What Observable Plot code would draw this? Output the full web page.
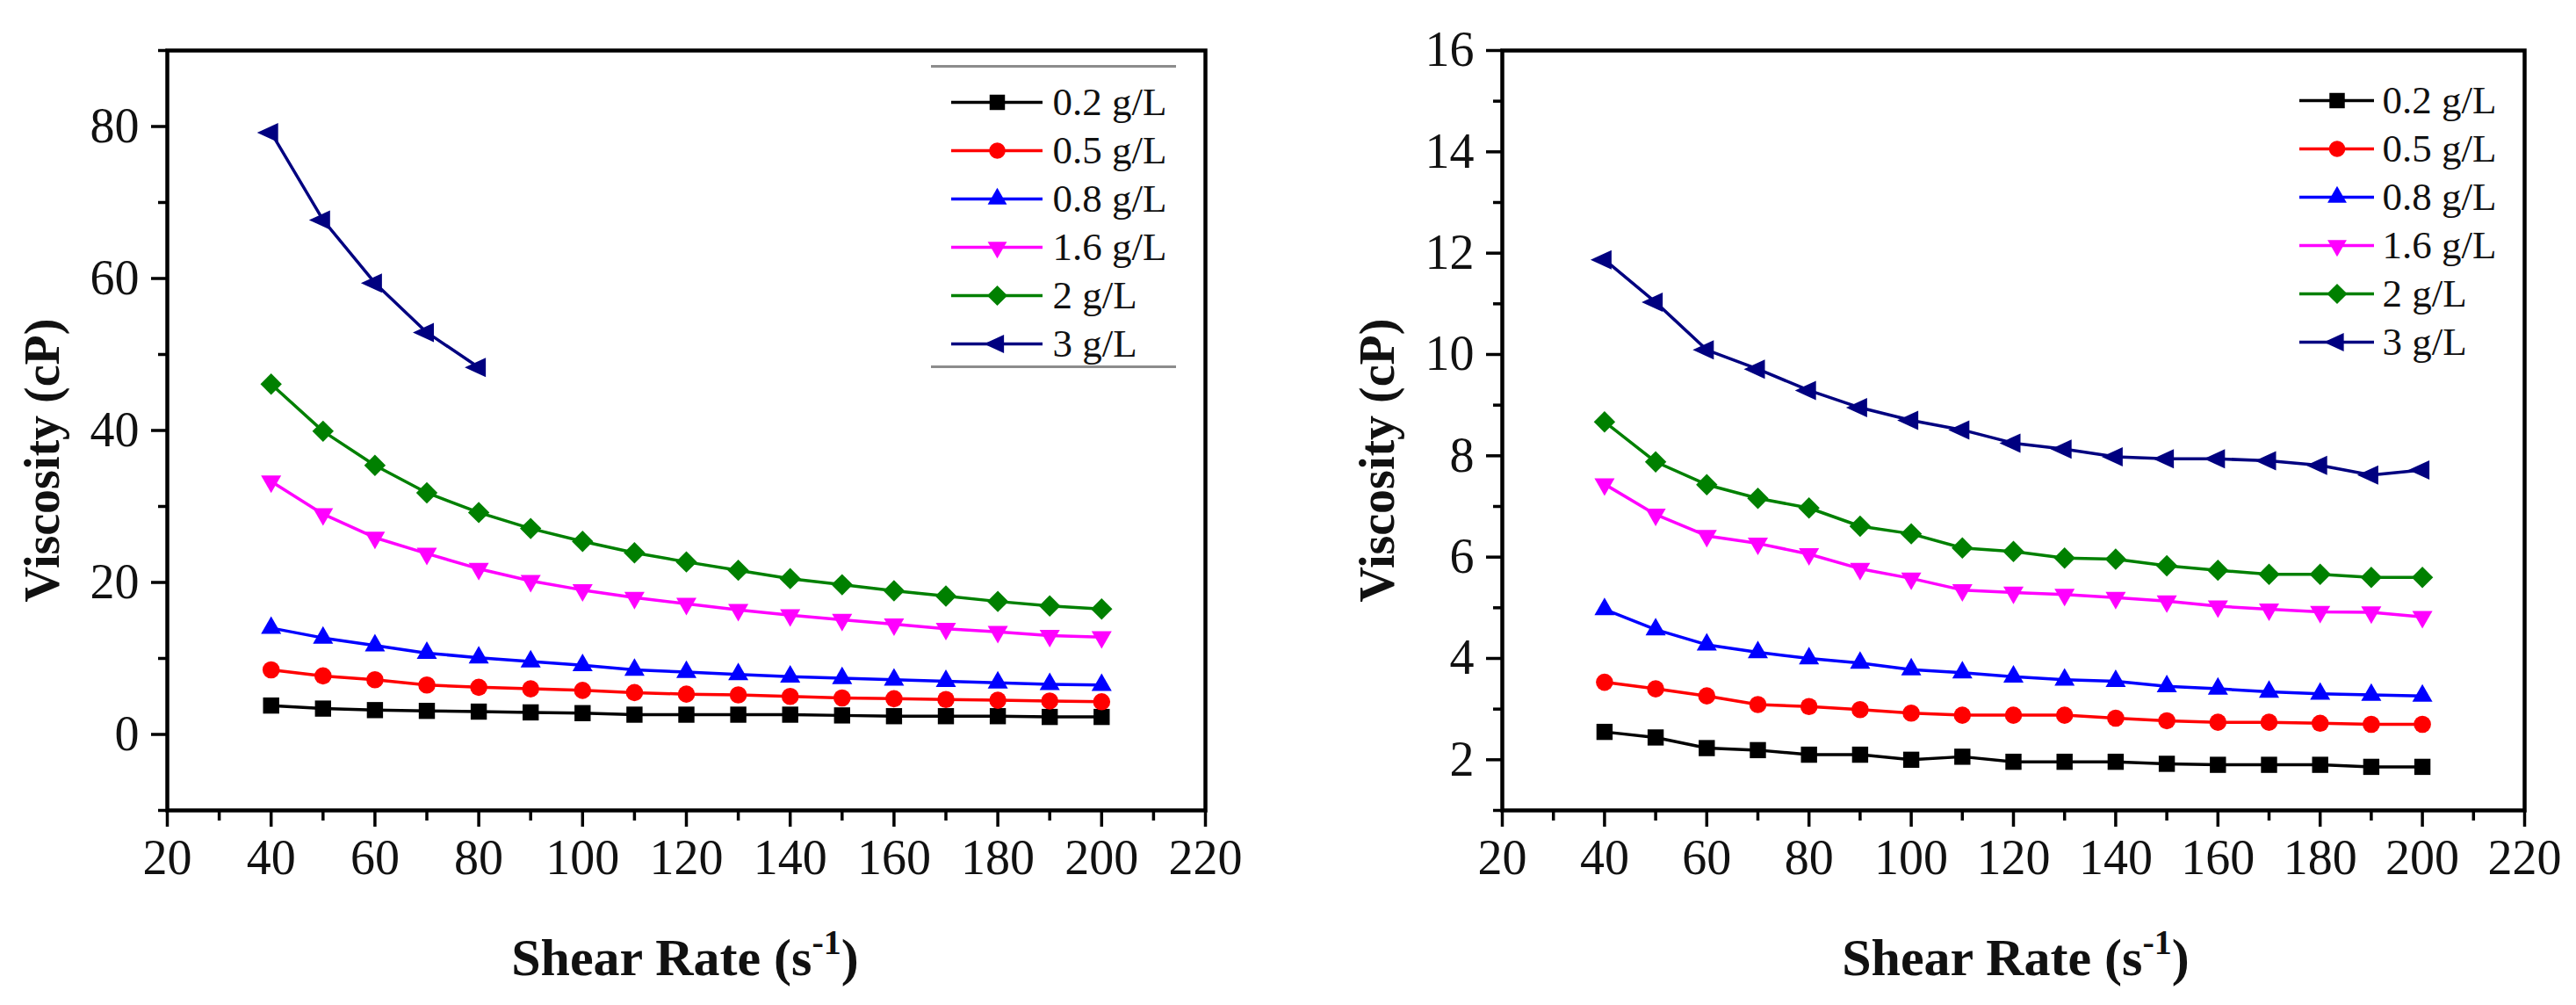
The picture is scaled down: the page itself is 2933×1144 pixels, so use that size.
<!DOCTYPE html>
<html>
<head>
<meta charset="utf-8">
<script src="https://cdn.jsdelivr.net/npm/d3@7"></script>
<script src="https://cdn.jsdelivr.net/npm/@observablehq/plot@0.6"></script>
<style>
  html, body { margin: 0; padding: 0; background: #fff; }
  #page { position: relative; width: 2933px; height: 1144px; overflow: hidden; background: #fff;
          font-family: "Liberation Serif", "Times New Roman", serif; }
  .abs { position: absolute; }
  .abs svg { overflow: visible; }
</style>
</head>
<body>
<div id="page"></div>
<script>
// ---------------- data ----------------
const series = ["0.2 g/L", "0.5 g/L", "0.8 g/L", "1.6 g/L", "2 g/L", "3 g/L"];
const colors = ["#000000", "#ff0000", "#0000ff", "#ff00ff", "#008000", "#000080"];
const shearRate = [40, 50, 60, 70, 80, 90, 100, 110, 120, 130, 140, 150, 160, 170, 180, 190, 200];

// left panel (viscosity, cP)
const left02 = [3.8, 3.4, 3.2, 3.1, 3.0, 2.9, 2.8, 2.6, 2.6, 2.6, 2.6, 2.5, 2.4, 2.4, 2.4, 2.3, 2.3];
const left05 = [8.5, 7.7, 7.2, 6.5, 6.2, 6.0, 5.8, 5.5, 5.3, 5.2, 5.0, 4.8, 4.7, 4.6, 4.5, 4.4, 4.3];
const left08 = [14.0, 12.7, 11.7, 10.7, 10.1, 9.6, 9.1, 8.5, 8.2, 7.9, 7.6, 7.4, 7.2, 7.0, 6.8, 6.6, 6.5];
const left16 = [33.3, 29.0, 25.9, 23.8, 21.8, 20.2, 19.0, 18.0, 17.2, 16.4, 15.7, 15.1, 14.5, 13.9, 13.5, 13.0, 12.8];
const left2  = [46.1, 39.9, 35.4, 31.8, 29.2, 27.1, 25.4, 23.9, 22.7, 21.6, 20.5, 19.7, 18.9, 18.2, 17.5, 16.9, 16.5];
const left3  = [79.2, 67.7, 59.4, 52.9, 48.3];

// right panel (viscosity, cP)
const right02 = [2.55, 2.44, 2.23, 2.19, 2.10, 2.10, 2.00, 2.06, 1.96, 1.96, 1.96, 1.92, 1.90, 1.90, 1.90, 1.86, 1.86];
const right05 = [3.53, 3.40, 3.26, 3.09, 3.05, 2.99, 2.92, 2.88, 2.88, 2.88, 2.82, 2.77, 2.74, 2.74, 2.72, 2.70, 2.70];
const right08 = [4.97, 4.57, 4.27, 4.12, 4.00, 3.91, 3.78, 3.72, 3.64, 3.58, 3.55, 3.45, 3.40, 3.34, 3.30, 3.28, 3.26];
const right16 = [7.44, 6.84, 6.42, 6.27, 6.06, 5.77, 5.58, 5.35, 5.30, 5.26, 5.20, 5.13, 5.03, 4.97, 4.92, 4.91, 4.82];
const right2  = [8.67, 7.88, 7.43, 7.16, 6.97, 6.61, 6.46, 6.18, 6.11, 5.98, 5.96, 5.83, 5.74, 5.66, 5.66, 5.60, 5.60];
const right3  = [11.87, 11.03, 10.09, 9.71, 9.29, 8.95, 8.70, 8.51, 8.25, 8.13, 7.98, 7.94, 7.94, 7.90, 7.81, 7.62, 7.72];

// ticks
const xDomain = [20, 220];
const xTicks = [20, 40, 60, 80, 100, 120, 140, 160, 180, 200, 220];
const xMinorTicks = [30, 50, 70, 90, 110, 130, 150, 170, 190, 210];
const leftYDomain = [-10, 90];
const leftYTicks = [0, 20, 40, 60, 80];
const leftYMinorTicks = [-10, 10, 30, 50, 70, 90];
const rightYDomain = [1, 16];
const rightYTicks = [2, 4, 6, 8, 10, 12, 14, 16];
const rightYMinorTicks = [1, 3, 5, 7, 9, 11, 13, 15];

const xLabel = "Shear Rate (s";
const xLabelSup = "-1";
const yLabel = "Viscosity (cP)";

// ---------------- symbols ----------------
function poly(ctx, pts) { ctx.moveTo(pts[0][0], pts[0][1]); for (let i = 1; i < pts.length; i++) ctx.lineTo(pts[i][0], pts[i][1]); ctx.closePath(); }
const symSquare = { draw(ctx, size) { const r = Math.sqrt(size / Math.PI), a = r * 0.92; poly(ctx, [[-a,-a],[a,-a],[a,a],[-a,a]]); } };
const symCircle = { draw(ctx, size) { const r = Math.sqrt(size / Math.PI) * 0.98; ctx.moveTo(r, 0); ctx.arc(0, 0, r, 0, 2 * Math.PI); } };
const symTriUp = { draw(ctx, size) { const r = Math.sqrt(size / Math.PI), h = r * 2.0, w = r * 2.3; poly(ctx, [[0,-h*2/3],[w/2,h/3],[-w/2,h/3]]); } };
const symTriDown = { draw(ctx, size) { const r = Math.sqrt(size / Math.PI), h = r * 2.0, w = r * 2.3; poly(ctx, [[0,h*2/3],[w/2,-h/3],[-w/2,-h/3]]); } };
const symDiamond = { draw(ctx, size) { const r = Math.sqrt(size / Math.PI), a = r * 1.22; poly(ctx, [[0,-a],[a,0],[0,a],[-a,0]]); } };
const symTriLeft = { draw(ctx, size) { const r = Math.sqrt(size / Math.PI), h = r * 2.4, w = r * 2.2; poly(ctx, [[-h*2/3,0],[h/3,-w/2],[h/3,w/2]]); } };
const symbols = [symSquare, symCircle, symTriUp, symTriDown, symDiamond, symTriLeft];

// ---------------- helpers ----------------
function toRows(valueArrays) {
  const rows = [];
  valueArrays.forEach((vals, i) => vals.forEach((v, j) => rows.push({ series: series[i], shear: shearRate[j], visc: v })));
  return rows;
}

const page = document.getElementById("page");
function place(node, left, top) {
  const d = document.createElement("div");
  d.className = "abs"; d.style.left = left + "px"; d.style.top = top + "px";
  d.appendChild(node); page.appendChild(d); return d;
}

const serif = "'Liberation Serif', 'Times New Roman', serif";

function panel({ rows, yDomain, yTicks, yMinor, width, marginLeft, marginRight }) {
  return Plot.plot({
    width, height: 1144,
    marginLeft, marginRight, marginTop: 57, marginBottom: 222,
    style: { background: "transparent", fontFamily: serif, color: "#111", overflow: "visible" },
    x: { domain: xDomain },
    y: { domain: yDomain },
    color: { domain: series, range: colors },
    symbol: { domain: series, range: symbols },
    marks: [
      Plot.line(rows, { x: "shear", y: "visc", stroke: "series", z: "series", strokeWidth: 3.5 }),
      Plot.dot(rows, { x: "shear", y: "visc", fill: "series", symbol: "series", r: 10 }),
      Plot.axisX({ ticks: xMinorTicks, tickSize: 12, strokeWidth: 3.5, stroke: "#000", fill: "none", label: null }),
      Plot.axisX({ ticks: xTicks, tickSize: 19, tickPadding: 14, strokeWidth: 3.5, stroke: "#000", fill: "#111", fontSize: 56, label: null }),
      Plot.axisY({ ticks: yMinor, tickSize: 10, strokeWidth: 3.5, stroke: "#000", fill: "none", label: null }),
      Plot.axisY({ ticks: yTicks, tickSize: 18, tickPadding: 14, strokeWidth: 3.5, stroke: "#000", fill: "#111", fontSize: 56, label: null }),
      Plot.frame({ stroke: "#000", strokeWidth: 4.5 })
    ]
  });
}

function legend({ width, height, xRange, yRange, dx }) {
  return Plot.plot({
    width, height, margin: 0,
    style: { background: "transparent", fontFamily: serif, color: "#111", overflow: "visible" },
    x: { domain: [0, 1], range: xRange, axis: null },
    y: { type: "point", domain: series, range: yRange, padding: 0, axis: null },
    color: { domain: series, range: colors },
    symbol: { domain: series, range: symbols },
    marks: [
      Plot.ruleY(series, { y: d => d, x1: 0, x2: 1, stroke: d => d, strokeWidth: 3.5 }),
      Plot.dot(series, { x: 0.5, y: d => d, fill: d => d, symbol: d => d, r: 9.5 }),
      Plot.text(series, { x: 1, y: d => d, text: d => d, dx, textAnchor: "start", lineAnchor: "middle", fontSize: 45, fill: "#111" })
    ]
  });
}

// ---------------- panels ----------------
place(panel({ rows: toRows([left02, left05, left08, left16, left2, left3]),
              yDomain: leftYDomain, yTicks: leftYTicks, yMinor: leftYMinorTicks,
              width: 1460, marginLeft: 190, marginRight: 88 }), 0, 0);
place(panel({ rows: toRows([right02, right05, right08, right16, right2, right3]),
              yDomain: rightYDomain, yTicks: rightYTicks, yMinor: rightYMinorTicks,
              width: 1467, marginLeft: 244, marginRight: 59 }), 1466, 0);

// legends
const lg1 = place(legend({ width: 279, height: 339, xRange: [23, 127], yRange: [38, 314], dx: 11 }), 1060, 74);
lg1.style.borderTop = "3px solid #8c8c8c";
lg1.style.borderBottom = "3px solid #8c8c8c";
lg1.style.lineHeight = "0";
place(legend({ width: 280, height: 360, xRange: [28, 113], yRange: [52, 330], dx: 9 }), 2590, 60);

// axis titles
const svg = d3.select(page).append("svg")
  .attr("width", 2933).attr("height", 1144)
  .style("position", "absolute").style("left", 0).style("top", 0).style("pointer-events", "none")
  .style("font-family", serif).style("font-weight", "bold").attr("fill", "#111");

[[780, 67], [2295, 1587]].forEach(([xc, yx]) => {
  const t = svg.append("text").attr("x", xc).attr("y", 1110).attr("text-anchor", "middle").attr("font-size", 60);
  t.append("tspan").text(xLabel);
  t.append("tspan").attr("dy", -24).attr("font-size", 40).text(xLabelSup);
  t.append("tspan").attr("dy", 24).text(")");
  svg.append("text").attr("transform", `translate(${yx},524) rotate(-90)`).attr("text-anchor", "middle")
    .attr("font-size", 56).text(yLabel);
});
</script>
</body>
</html>
